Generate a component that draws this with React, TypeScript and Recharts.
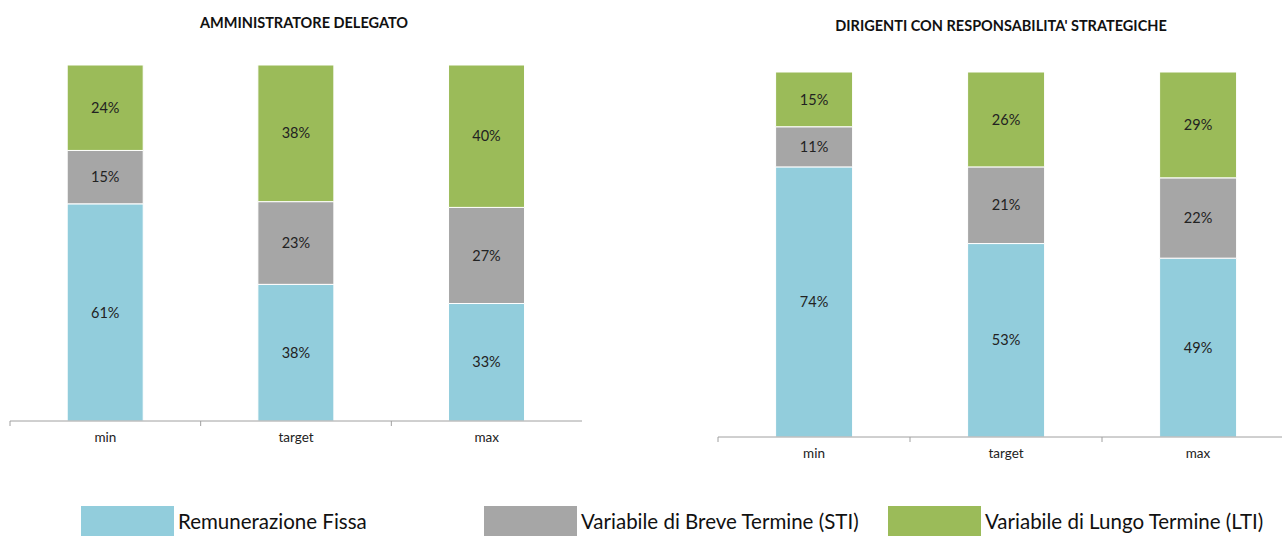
import { BarChart, Bar, XAxis, YAxis, LabelList } from "recharts";

const categories = ["min", "target", "max"];

// Amministratore Delegato (%)
const adFissa = [61, 38, 33];
const adSti = [15, 23, 27];
const adLti = [24, 38, 40];

// Dirigenti con responsabilità strategiche (%)
const drsFissa = [74, 53, 49];
const drsSti = [11, 21, 22];
const drsLti = [15, 26, 29];

const seriesNames = [
  "Remunerazione Fissa",
  "Variabile di Breve Termine (STI)",
  "Variabile di Lungo Termine (LTI)",
];
const colors = ["#92CDDC", "#A6A6A6", "#9BBB59"];
const font = "Lato, 'Open Sans', sans-serif";

const build = (f: number[], s: number[], l: number[]) =>
  categories.map((c, i) => ({ name: c, fissa: f[i], sti: s[i], lti: l[i] }));

const adData = build(adFissa, adSti, adLti);
const drsData = build(drsFissa, drsSti, drsLti);

// category label plus small tick marks at the band edges
function BandTick(props: any) {
  const { x, y, payload, width, visibleTicksCount, index } = props;
  const band = width / (visibleTicksCount || 3);
  const left = x - band / 2;
  return (
    <g>
      {index === 0 && (
        <line x1={left} x2={left} y1={y - 8} y2={y - 3} stroke="#A0A0A0" />
      )}
      {index < visibleTicksCount - 1 && (
        <line x1={x + band / 2} x2={x + band / 2} y1={y - 8} y2={y - 3} stroke="#A0A0A0" />
      )}
      <text
        x={x}
        y={y + 13}
        textAnchor="middle"
        fontSize={13.5}
        fontFamily={font}
        fill="#222"
      >
        {payload.value}
      </text>
    </g>
  );
}

const pct = (v: any) => `${v}%`;

function StackChart({
  data,
  width,
  height,
  margin,
}: {
  data: any[];
  width: number;
  height: number;
  margin: { top: number; left: number; right: number; bottom: number };
}) {
  const keys = ["fissa", "sti", "lti"];
  return (
    <BarChart
      width={width}
      height={height}
      data={data}
      margin={margin}
      stackOffset="expand"
      barCategoryGap="30%"
    >
      <XAxis
        dataKey="name"
        height={30}
        axisLine={{ stroke: "#A0A0A0" }}
        tickLine={false}
        tick={<BandTick />}
        interval={0}
      />
      <YAxis hide />
      {keys.map((k, i) => (
        <Bar
          key={k}
          dataKey={k}
          stackId="a"
          fill={colors[i]}
          stroke="#ffffff"
          strokeWidth={1}
          isAnimationActive={false}
        >
          <LabelList
            dataKey={k}
            position="center"
            formatter={pct}
            fill="#222"
            fontSize={14.5}
            fontFamily={font}
          />
        </Bar>
      ))}
    </BarChart>
  );
}

const titleStyle = (center: number, top: number): React.CSSProperties => ({
  position: "absolute",
  left: center - 250,
  top,
  width: 500,
  textAlign: "center",
  fontFamily: font,
  fontWeight: 700,
  fontSize: 14.5,
  color: "#111",
});

export default function App() {
  return (
    <div
      style={{
        position: "absolute",
        left: 0,
        top: 0,
        width: 1282,
        height: 541,
        overflow: "hidden",
        background: "#fff",
      }}
    >
      <div style={titleStyle(304, 14)}>AMMINISTRATORE DELEGATO</div>
      <div style={titleStyle(1001, 17)}>DIRIGENTI CON RESPONSABILITA' STRATEGICHE</div>

      <div style={{ position: "absolute", left: 0, top: 0 }}>
        <StackChart
          data={adData}
          width={600}
          height={470}
          margin={{ top: 65, left: 10, right: 18, bottom: 19 }}
        />
      </div>
      <div style={{ position: "absolute", left: 700, top: 0 }}>
        <StackChart
          data={drsData}
          width={620}
          height={470}
          margin={{ top: 72, left: 18, right: 26, bottom: 3 }}
        />
      </div>

      {seriesNames.map((n, i) => (
        <div
          key={n}
          style={{
            position: "absolute",
            left: [81, 484, 888][i],
            top: 506,
            display: "flex",
            alignItems: "center",
            fontFamily: font,
            fontSize: 20.5,
            color: "#111",
            whiteSpace: "nowrap",
          }}
        >
          <div style={{ width: 93, height: 30, background: colors[i], marginRight: 4 }} />
          {n}
        </div>
      ))}
    </div>
  );
}
